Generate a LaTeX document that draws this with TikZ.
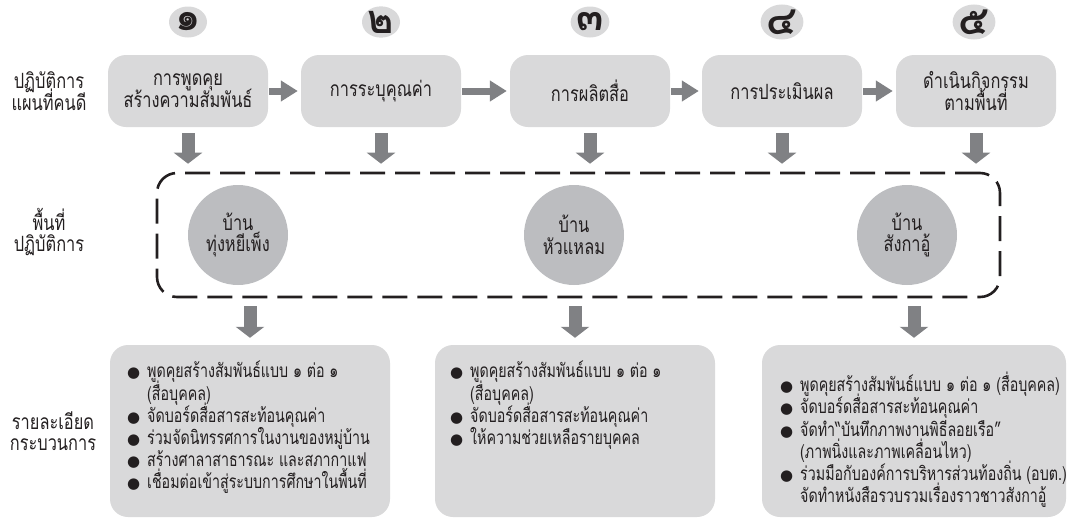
\documentclass[tikz,border=0pt]{standalone}
\usepackage{fontspec}
\newfontfamily\thai[Script=Thai,FakeStretch=0.78]{Loma}
\newfontfamily\thaismall[Script=Thai,FakeStretch=0.75]{Loma}
\newfontfamily\thainum[Script=Thai]{Loma}
\newfontfamily\sym{DejaVu Sans}
\usetikzlibrary{arrows.meta,calc,shapes.geometric}
\definecolor{ink}{HTML}{231F20}
\definecolor{boxgray}{HTML}{D9D9DA}
\definecolor{circgray}{HTML}{BCBDC0}
\definecolor{arrgray}{HTML}{808184}
\newcommand{\bul}{\makebox[20pt][l]{\sym\fontsize{15}{15}\selectfont ●}}
\newcommand{\nob}{\hspace*{20pt}}
\newcommand{\tightlines}{\lineskiplimit=-50pt\relax\lineskip=0pt\relax}
\newcommand{\bigthai}{\thai\fontsize{21}{21.7}\selectfont\tightlines}
\newcommand{\smallthai}{\thaismall\fontsize{19}{22.2}\selectfont\tightlines}
\begin{document}
\begin{tikzpicture}[x=1pt,y=-1pt,
  font=\bigthai, text=ink,
  stepbox/.style={fill=boxgray, rounded corners=18pt, minimum width=160pt,
    minimum height=72pt, align=center, inner sep=0pt},
  numdot/.style={ellipse, fill=boxgray, minimum width=38pt, minimum height=31pt,
    inner sep=0pt, font=\thainum\bfseries\fontsize{40}{40}\selectfont},
  village/.style={circle, fill=circgray, minimum size=100pt, inner sep=0pt, align=center},
  detailbox/.style={fill=boxgray, rounded corners=18pt, inner sep=0pt, minimum height=172pt},
  sidelabel/.style={align=center, inner sep=0pt},
  hflow/.style={arrgray, line width=7pt, -{Triangle[length=17pt,width=20pt]},
    shorten <=1pt, shorten >=3pt},
  vflow/.style={arrgray, line width=13pt, -{Triangle[length=11pt,width=28pt]}},
  listtext/.style={anchor=north west, inner sep=0pt, align=left, font=\smallthai}]
\useasboundingbox (0,0) rectangle (1079,520);

% numbers
\node[numdot] (n1) at (188,22) {๑};
\node[numdot] (n2) at (381,22) {๒};
\node[numdot] (n3) at (590,22) {๓};
\node[numdot] (n4) at (782,22) {๔};
\node[numdot] (n5) at (974,22) {๕};

% steps
\node[stepbox] (s1) at (188,91) {การพูดคุย\\สร้างความสัมพันธ์};
\node[stepbox] (s2) at (381,91) {การระบุคุณค่า};
\node[stepbox] (s3) at (590,91) {การผลิตสื่อ};
\node[stepbox] (s4) at (782,91) {การประเมินผล};
\node[stepbox] (s5) at (976,91) {ดำเนินกิจกรรม\\ตามพื้นที่};

\draw[hflow] (s1.east) -- (s2.west);
\draw[hflow] (s2.east) -- (s3.west);
\draw[hflow] (s3.east) -- (s4.west);
\draw[hflow] (s4.east) -- (s5.west);

% side labels
\node[sidelabel] (l1) at (49,91) {ปฏิบัติการ\\แผนที่คนดี};
\node[sidelabel] (l2) at (49,232) {พื้นที่\\ปฏิบัติการ};
\node[sidelabel] (l3) at (53,431) {รายละเอียด\\กระบวนการ};

% area
\node[draw=ink, line width=2.6pt, dash pattern=on 25pt off 10pt, rounded corners=20pt,
  minimum width=843pt, minimum height=124pt, inner sep=0pt] (area) at (578.5,235) {};

\foreach \i in {1,...,5}{
  \draw[vflow, shorten <=6pt, shorten >=8pt] (s\i.south) -- (s\i.south |- area.north);
}

\node[village] (v1) at (238,235) {บ้าน\\ทุ่งหยีเพ็ง};
\node[village] (v2) at (574,235) {บ้าน\\หัวแหลม};
\node[village] (v3) at (907,235) {บ้าน\\สังกาอู้};

% detail boxes
\node[detailbox, minimum width=280pt] (d1) at (250,431) {};
\node[detailbox, minimum width=280pt] (d2) at (575,431) {};
\node[detailbox, minimum width=304pt] (d3) at (914,431) {};

\foreach \i in {1,2,3}{
  \draw[vflow, shorten <=8pt, shorten >=7pt] (area.south -| d\i.north) -- (d\i.north);
}

\node[listtext] (t1) at (127,361) {\bul พูดคุยสร้างสัมพันธ์แบบ ๑ ต่อ ๑\\
\nob (สื่อบุคคล)\\
\bul จัดบอร์ดสื่อสารสะท้อนคุณค่า\\
\bul ร่วมจัดนิทรรศการในงานของหมู่บ้าน\\
\bul สร้างศาลาสาธารณะ และสภากาแฟ\\
\bul เชื่อมต่อเข้าสู่ระบบการศึกษาในพื้นที่};

\node[listtext] (t2) at (450,361) {\bul พูดคุยสร้างสัมพันธ์แบบ ๑ ต่อ ๑\\
\nob (สื่อบุคคล)\\
\bul จัดบอร์ดสื่อสารสะท้อนคุณค่า\\
\bul ให้ความช่วยเหลือรายบุคคล};

\node[listtext] (t3) at (780,372) {\bul พูดคุยสร้างสัมพันธ์แบบ ๑ ต่อ ๑ (สื่อบุคคล)\\
\bul จัดบอร์ดสื่อสารสะท้อนคุณค่า\\
\bul จัดทำ“บันทึกภาพงานพิธีลอยเรือ”\\
\nob (ภาพนิ่งและภาพเคลื่อนไหว)\\
\bul ร่วมมือกับองค์การบริหารส่วนท้องถิ่น (อบต.)\\
\nob จัดทำหนังสือรวบรวมเรื่องราวชาวสังกาอู้};
\end{tikzpicture}
\end{document}
